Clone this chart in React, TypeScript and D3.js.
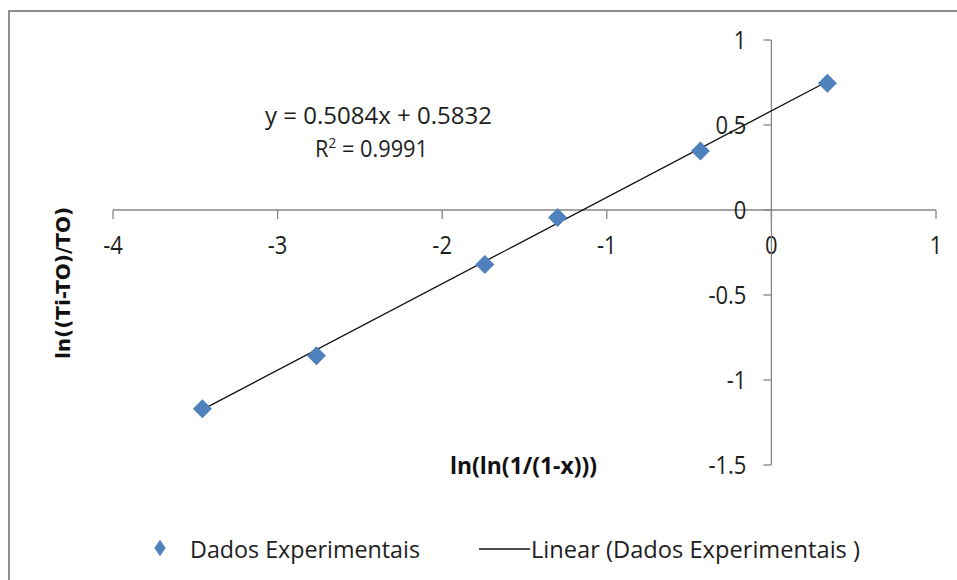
import React from "react";
import * as d3 from "d3";

const xValues = [-3.457, -2.764, -1.741, -1.299, -0.431, 0.34];
const yValues = [-1.169, -0.858, -0.32, -0.044, 0.347, 0.746];
const xTicks = [-4, -3, -2, -1, 0, 1];
const yTicks = [1, 0.5, 0, -0.5, -1, -1.5];
const slope = 0.5084;
const intercept = 0.5832;
const equationText = "y = 0.5084x + 0.5832";
const rSquaredText = "0.9991";
const xTitle = "ln(ln(1/(1-x)))";
const yTitle = "ln((Ti-TO)/TO)";
const seriesName = "Dados Experimentais";
const trendName = "Linear (Dados Experimentais )";

const W = 957;
const H = 580;
const FONT = "'Open Sans', sans-serif";
const BLUE = "#4F81BD";
const AXIS = "#868686";
const INK = "#1e1e1e";

export default function App() {
  const x = d3.scaleLinear().domain([-4, 1]).range([113, 936]);
  const y = d3.scaleLinear().domain([-1.5, 1]).range([465, 40]);
  const points = xValues.map((v, i) => ({ x: v, y: yValues[i] }));
  const x0 = d3.min(xValues) as number;
  const x1 = d3.max(xValues) as number;
  const trend = d3.line<number>().x((d) => x(d)).y((d) => y(slope * d + intercept))([x0, x1]);
  const diamond = d3.symbol().type(d3.symbolDiamond2).size(230)();
  const legendDiamond = d3.symbol().type(d3.symbolDiamond2).size(130)();

  return (
    <svg
      width={W}
      height={H}
      style={{ position: "absolute", left: 0, top: 0, background: "#fff" }}
      fontFamily={FONT}
    >
      <rect x={9} y={11} width={W} height={H} fill="#fff" stroke="#8f8f8f" strokeWidth={2} />

      {/* horizontal axis through y = 0 */}
      <line x1={x(-4)} x2={x(1)} y1={y(0)} y2={y(0)} stroke={AXIS} strokeWidth={1.3} />
      {xTicks.map((t) => (
        <g key={"xt" + t}>
          <line x1={x(t)} x2={x(t)} y1={y(0)} y2={y(0) + 9} stroke={AXIS} strokeWidth={1.3} />
          <text x={x(t)} y={y(0) + 44} textAnchor="middle" fontSize={25} fill={INK}
            transform={`translate(${x(t) * 0.12},0) scale(0.88,1)`}>
            {t}
          </text>
        </g>
      ))}

      {/* vertical axis through x = 0 */}
      <line x1={x(0)} x2={x(0)} y1={y(1)} y2={y(-1.5)} stroke={AXIS} strokeWidth={1.3} />
      {yTicks.map((t) => (
        <g key={"yt" + t}>
          <line x1={x(0) - 8} x2={x(0)} y1={y(t)} y2={y(t)} stroke={AXIS} strokeWidth={1.3} />
          <text x={x(0) - 25} y={y(t) + 9} textAnchor="end" fontSize={25} fill={INK}
            transform={`translate(${(x(0) - 25) * 0.12},0) scale(0.88,1)`}>
            {t}
          </text>
        </g>
      ))}

      {/* fitted line */}
      <path d={trend || ""} fill="none" stroke="#111" strokeWidth={1.3} />

      {/* observations */}
      {points.map((p, i) => (
        <path key={i} d={diamond || ""} transform={`translate(${x(p.x)},${y(p.y)})`} fill={BLUE} />
      ))}

      {/* regression annotation */}
      <text x={265} y={124} fontSize={24} fill={INK} textLength={227} lengthAdjust="spacingAndGlyphs">
        {equationText}
      </text>
      <text x={315} y={157} fontSize={24} fill={INK} textLength={113} lengthAdjust="spacingAndGlyphs">
        R<tspan dy={-9} fontSize={15}>2</tspan>
        <tspan dy={9}> = {rSquaredText}</tspan>
      </text>

      {/* axis titles */}
      <text x={450} y={474} fontSize={23} fontWeight="bold" fill="#111" textLength={147} lengthAdjust="spacingAndGlyphs">
        {xTitle}
      </text>
      <text
        transform={`translate(70,${283}) rotate(-90)`}
        textAnchor="middle"
        fontSize={20}
        fontWeight="bold"
        fill="#111"
        fontFamily="'DejaVu Sans', sans-serif"
      >
        {yTitle}
      </text>

      {/* legend */}
      <path d={legendDiamond || ""} transform="translate(160,548) scale(0.8,1.15)" fill={BLUE} />
      <text x={190} y={558} fontSize={24} fill={INK} textLength={230} lengthAdjust="spacingAndGlyphs">
        {seriesName}
      </text>
      <line x1={479} x2={530} y1={549} y2={549} stroke="#111" strokeWidth={1.3} />
      <text x={531} y={558} fontSize={24} fill={INK} textLength={329} lengthAdjust="spacingAndGlyphs">
        {trendName}
      </text>
    </svg>
  );
}
